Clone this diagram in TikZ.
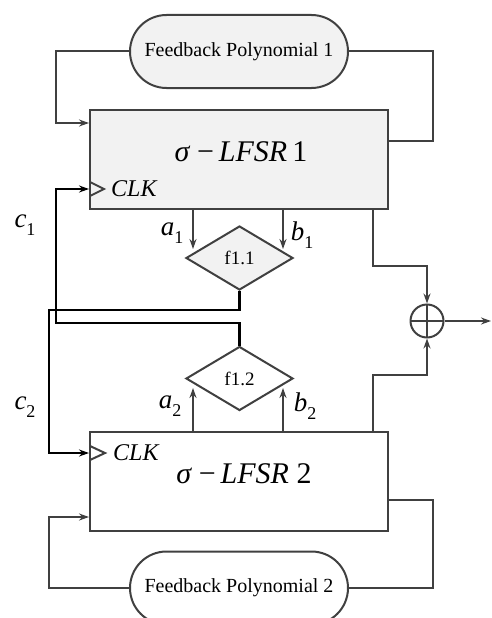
\documentclass[tikz,border=0pt]{standalone}
\usepackage{fontspec}
\setmainfont{Liberation Serif}
\usetikzlibrary{shapes.geometric,shapes.misc,arrows.meta}
\definecolor{wire}{RGB}{64,64,64}
\definecolor{shade}{RGB}{242,242,242}
\newcommand{\symsub}[2]{{\itshape #1}\raisebox{-0.3em}{\fontsize{18}{18}\selectfont #2}}

\begin{document}
\begin{tikzpicture}[x=1pt,y=1pt,yscale=-1,
    wire/.style={draw=wire,line width=2pt},
    flow/.style={wire,-{Stealth[length=10pt,width=7pt]}},
    clk/.style={draw=black,line width=2.2pt,-{Stealth[length=10pt,width=7pt]}},
    poly/.style={rounded rectangle,draw=wire,line width=2pt,minimum width=218pt,minimum height=73pt,inner sep=0pt,font=\fontsize{20}{20}\selectfont},
    lfsr/.style={rectangle,draw=wire,line width=2pt,minimum width=298pt,minimum height=99pt,inner sep=0pt},
    fbox/.style={diamond,draw=wire,line width=2pt,minimum width=107pt,minimum height=64pt,inner sep=0pt,font=\fontsize{19}{19}\selectfont},
    txt/.style={inner sep=0pt,font=\fontsize{27}{27}\selectfont},
    clktxt/.style={inner sep=0pt,font=\fontsize{24}{24}\selectfont\itshape}]
  \useasboundingbox (0,0) rectangle (491,618);

  % blocks
  \node[poly,fill=shade] (fb1) at (239,51.5) {Feedback Polynomial 1};
  \node[lfsr,fill=shade] (lfsr1) at (239,159.5) {};
  \node[fbox,fill=shade] (f11) at (239.5,258) {f1.1};
  \node[fbox,fill=white] (f12) at (239.5,378.5) {f1.2};
  \node[lfsr,fill=white] (lfsr2) at (239,481.5) {};
  \node[poly,fill=white] (fb2) at (239,588) {Feedback Polynomial 2};
  \node[circle,draw=wire,line width=2pt,minimum size=33pt,inner sep=0pt,
    path picture={\draw[wire] (path picture bounding box.north) -- (path picture bounding box.south)
      (path picture bounding box.west) -- (path picture bounding box.east);}] (xor) at (427,321) {};

  % texts in the registers
  \node[inner sep=0pt,font=\fontsize{30}{30}\selectfont] (name1) at (241,152) {{\itshape σ} −\,{\itshape LFSR}\,1};
  \node[inner sep=0pt,font=\fontsize{30}{30}\selectfont] (name2) at (244,474) {{\itshape σ} −\,{\itshape LFSR} 2};
  \node[clktxt,anchor=west] (clk1) at (111,189) {CLK};
  \node[clktxt,anchor=west] (clk2) at (113,453) {CLK};
  \draw[wire] (90,182) -- (104,189) -- (90,196);
  \draw[wire] (90,446) -- (105,453) -- (90,460);

  % feedback loops
  \draw[flow] (fb1.west) -| (56,123) -- (lfsr1.west |- 0,123);
  \draw[wire] (fb1.east) -| (433,141) -- (lfsr1.east |- 0,141);
  \draw[wire] (lfsr2.east |- 0,500) -| (433,588) -- (fb2.east);
  \draw[flow] (fb2.west) -| (49,517) -- (lfsr2.west |- 0,517);

  % inputs of the filter functions
  \coordinate (a1) at (193,249);
  \coordinate (b1) at (283,249);
  \coordinate (a2) at (193,388);
  \coordinate (b2) at (283,388);
  \draw[flow] (lfsr1.south -| a1) -- (a1);
  \draw[flow] (lfsr1.south -| b1) -- (b1);
  \draw[flow] (lfsr2.north -| a2) -- (a2);
  \draw[flow] (lfsr2.north -| b2) -- (b2);

  % clock control
  \draw[clk] (f12.north) -- (239.5,323) -- (56,323) -- (56,189) -- (lfsr1.west |- 0,189);
  \draw[clk] (f11.south) -- (239.5,310) -- (49,310) -- (49,453) -- (lfsr2.west |- 0,453);

  % outputs to the xor
  \draw[flow] (373,209) -- (373,266) -| (xor.north);
  \draw[flow] (373,432) -- (373,375) -| (xor.south);
  \coordinate (out) at (491,321);
  \draw[flow] (xor.east) -- (out);

  % labels
  \node[txt] (c1) at (25,225) {\symsub{c}{1}};
  \node[txt] (c2) at (25,407) {\symsub{c}{2}};
  \node[txt] (la1) at (172,233) {\symsub{a}{1}};
  \node[txt] (lb1) at (302,235) {\symsub{b}{1}};
  \node[txt] (la2) at (170,406) {\symsub{a}{2}};
  \node[txt] (lb2) at (305,406) {\symsub{b}{2}};
\end{tikzpicture}
\end{document}
